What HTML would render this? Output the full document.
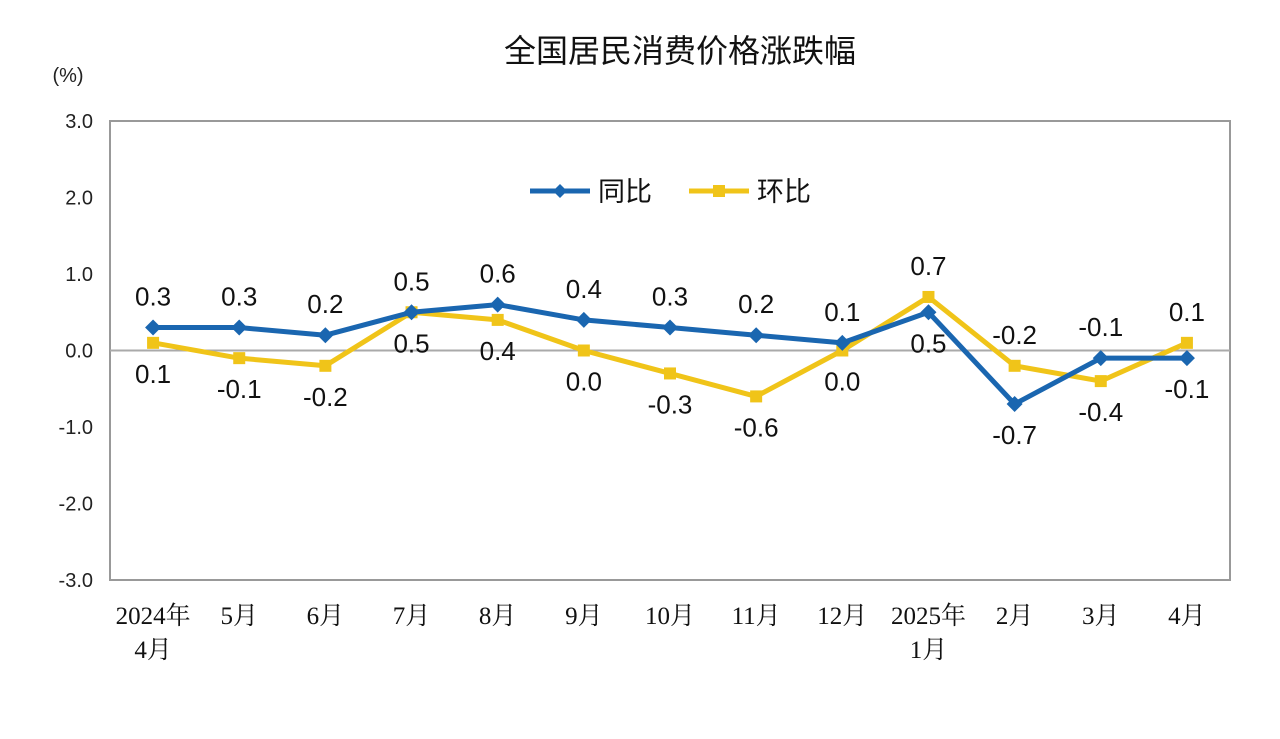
<!DOCTYPE html>
<html><head><meta charset="utf-8"><style>
body{margin:0;background:#fff;width:1280px;height:734px;overflow:hidden}
text{font-family:"Liberation Sans","Noto Sans CJK SC",sans-serif}
.serif{font-family:"Liberation Serif","Noto Serif CJK SC",serif}
</style></head><body>
<svg id="chart" width="1280" height="734" xmlns="http://www.w3.org/2000/svg">
<text x="680" y="62" font-size="32" text-anchor="middle" fill="#111">全国居民消费价格涨跌幅</text>
<text x="68" y="82" font-size="20" text-anchor="middle" fill="#222">(%)</text>
<rect x="110" y="121" width="1120" height="459" fill="none" stroke="#999" stroke-width="2"/>
<g id="yticks"></g><g id="xticks"></g><g id="series"></g>
<g>
<line x1="530" y1="191" x2="590" y2="191" stroke="#1a66b0" stroke-width="5"/>
<path d="M560 184 L567 191 L560 198 L553 191Z" fill="#1a66b0"/>
<text x="598" y="201" font-size="27" fill="#111">同比</text>
<line x1="689" y1="191" x2="749" y2="191" stroke="#f0c419" stroke-width="5"/>
<rect x="713" y="185" width="12" height="12" fill="#f0c419"/>
<text x="757" y="201" font-size="27" fill="#111">环比</text>
</g>
</svg>
<script>
const categories=["2024年|4月","5月","6月","7月","8月","9月","10月","11月","12月","2025年|1月","2月","3月","4月"];
const yoy=[0.3,0.3,0.2,0.5,0.6,0.4,0.3,0.2,0.1,0.5,-0.7,-0.1,-0.1];
const mom=[0.1,-0.1,-0.2,0.5,0.4,0.0,-0.3,-0.6,0.0,0.7,-0.2,-0.4,0.1];
const yTicks=[3,2,1,0,-1,-2,-3];
const yoyAbove=[1,1,1,1,1,1,1,1,1,0,0,1,0];
const NS="http://www.w3.org/2000/svg";
const X0=110,W=1120,Y0=121,H=459;
const x=i=>X0+W/categories.length*(i+0.5);
const y=v=>Y0+(3-v)/6*H;
function el(t,a,p){const e=document.createElementNS(NS,t);for(const k in a)e.setAttribute(k,a[k]);p.appendChild(e);return e;}
const yt=document.getElementById('yticks');
yTicks.forEach(v=>{const t=el('text',{x:93,y:y(v)+7,'font-size':20,'text-anchor':'end',fill:'#222'},yt);


t.textContent=v.toFixed(1);});
const z=el('line',{x1:X0,x2:X0+W,y1:y(0),y2:y(0),stroke:'#aaa','stroke-width':2},yt);


const xt=document.getElementById('xticks');
categories.forEach((c,i)=>{c.split('|').forEach((s,j)=>{const t=el('text',{x:x(i),y:624+j*34,'font-size':25,'text-anchor':'middle',fill:'#111',class:'serif'},xt);


t.textContent=s;});});
const sg=document.getElementById('series');
function fmt(v){return (Math.abs(v)<1e-9?0:v).toFixed(1);}
function draw(vals,color,name,marker,aboveFn){
const pl=el('polyline',{points:vals.map((v,i)=>x(i)+','+y(v)).join(' '),fill:'none',stroke:color,'stroke-width':5,'stroke-linejoin':'round'},sg);


vals.forEach((v,i)=>{let m;
if(marker==='d')m=el('path',{d:`M${x(i)} ${y(v)-8} L${x(i)+8} ${y(v)} L${x(i)} ${y(v)+8} L${x(i)-8} ${y(v)}Z`,fill:color},sg);
else m=el('rect',{x:x(i)-6,y:y(v)-6,width:12,height:12,fill:color},sg);


const ab=aboveFn(i);
const t=el('text',{x:x(i),y:ab?y(v)-22:y(v)+40,'font-size':26,'text-anchor':'middle',fill:'#111'},sg);


t.textContent=fmt(v);});}
draw(mom,'#f0c419','mom','s',i=>!yoyAbove[i]);
draw(yoy,'#1a66b0','yoy','d',i=>yoyAbove[i]);
</script>
</body></html>
